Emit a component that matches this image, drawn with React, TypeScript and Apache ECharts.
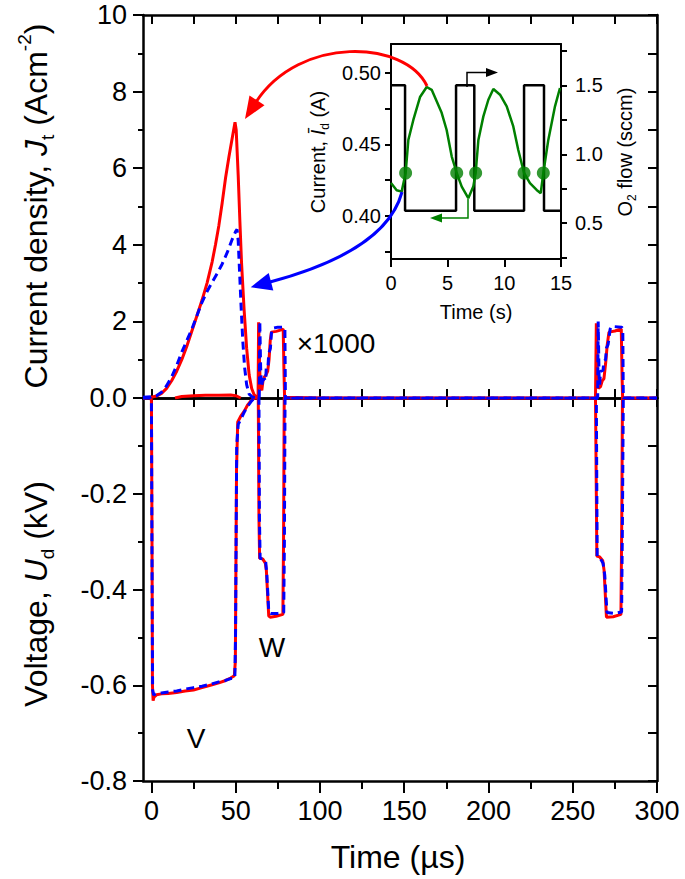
import React, { useEffect, useRef } from "react";
import * as echarts from "echarts";

const FONT = "'Liberation Sans', Arial, Helvetica, sans-serif";

// ---- main chart axes ----
const xTicks25 = [0, 25, 50, 75, 100, 125, 150, 175, 200, 225, 250, 275, 300];
const xLabels = [0, 50, 100, 150, 200, 250, 300];
const xMinor = [25, 75, 125, 175, 225, 275];

// ---- current density J_t (upper panel), [time µs, A cm^-2] ----
const jRed: [number, number][] = [
  [-5, 0], [0, 0.02], [3, 0.05], [6, 0.12], [9, 0.25], [12, 0.45], [15, 0.7], [18, 1.0],
  [21, 1.35], [24, 1.75], [27, 2.15], [30, 2.55], [33, 3.0], [36, 3.55], [38, 4.0],
  [40, 4.5], [42, 5.1], [44, 5.75], [46, 6.3], [48, 6.8], [49.6, 7.2], [50.3, 7.0],
  [51.5, 5.8], [52.5, 4.6], [53.5, 3.5], [55, 2.3], [56.5, 1.3], [58, 0.6], [59.5, 0.25],
  [61, 0.08], [62.5, 0.02], [63.3, 0.05], [63.6, 1.98], [64.1, 1.0], [64.6, 0.3],
  [65.5, 0.2], [66.2, 0.45], [67, 0.55], [68, 0.6], [69, 0.7], [69.8, 1.0], [70.5, 1.5],
  [71.2, 1.72], [74, 1.74], [77, 1.78], [78.2, 1.8], [78.6, 0.8], [79, 0.02], [100, 0],
  [150, 0], [200, 0], [263.5, 0], [264, 1.95], [264.6, 0.8], [265.2, 0.25], [266.5, 0.3],
  [267.5, 0.45], [268.5, 0.5], [269.5, 0.9], [270.5, 1.4], [271.5, 1.72], [275, 1.75],
  [278.8, 1.8], [279.3, 0.5], [279.6, 0], [300, 0],
];
const jBlue: [number, number][] = [
  [-5, 0.02], [0, 0.03], [3, 0.06], [6, 0.15], [9, 0.32], [12, 0.55], [15, 0.85], [18, 1.2],
  [21, 1.5], [24, 1.8], [27, 2.15], [30, 2.5], [33, 2.78], [36, 3.02], [39, 3.25],
  [42, 3.5], [45, 3.8], [48, 4.15], [50, 4.35], [50.8, 4.4], [51.5, 4.1], [52.3, 3.3],
  [53.2, 2.4], [54.2, 1.5], [55.3, 0.8], [56.5, 0.35], [58, 0.1], [60, 0.02], [64, 0],
  [64.3, 2.0], [64.8, 0.8], [65.3, 0.3], [66, 0.45], [67, 0.5], [67.8, 0.45], [68.2, 0.85],
  [69.2, 0.85], [69.6, 1.15], [70.6, 1.3], [71.3, 1.75], [72, 1.82], [75, 1.85],
  [78.5, 1.85], [79.2, 1.8], [79.5, 0], [100, 0], [150, 0], [200, 0], [264.8, 0],
  [265.1, 2.0], [265.6, 0.6], [266, 0.35], [266.5, 0.7], [268, 0.72], [268.4, 0.95],
  [269.5, 1.0], [270, 1.3], [271, 1.4], [272.2, 1.8], [273, 1.87], [279, 1.85],
  [279.7, 1.8], [280, 0], [300, 0],
];
// small ×1000 residual trace lying just above zero during the first pulse
const jRedResidual: [number, number][] = [
  [14, 0], [18, 0.04], [25, 0.06], [32, 0.07], [40, 0.07], [47, 0.08], [50, 0.06], [53, 0],
];

// ---- voltage U_d (lower panel), [time µs, kV] ----
const uRed: [number, number][] = [
  [-5, 0], [-0.5, 0], [0, -0.005], [0.3, -0.25], [0.6, -0.6], [1, -0.632], [1.5, -0.625],
  [3, -0.62], [6, -0.618], [10, -0.617], [15, -0.615], [20, -0.612], [25, -0.61],
  [30, -0.605], [35, -0.6], [40, -0.595], [44, -0.59], [47, -0.585], [49.2, -0.58],
  [49.8, -0.55], [50.5, -0.15], [51.2, -0.05], [53, -0.038], [55, -0.028], [57, -0.015],
  [59, -0.006], [61, 0], [63.4, 0], [63.8, -0.25], [64.2, -0.335], [66, -0.336],
  [67.6, -0.345], [68.2, -0.36], [69.6, -0.455], [70.5, -0.458], [74, -0.456],
  [78, -0.452], [78.4, -0.3], [78.8, 0], [100, 0], [263.5, 0], [264, -0.2], [264.3, -0.33],
  [266, -0.332], [267.8, -0.34], [268.6, -0.36], [270, -0.458], [274, -0.457],
  [278.6, -0.452], [279.1, -0.25], [279.5, 0], [300, 0],
];
const uBlue: [number, number][] = [
  [-5, 0], [-0.5, 0], [0, -0.01], [0.3, -0.3], [0.7, -0.61], [1.3, -0.62], [3, -0.617],
  [6, -0.616], [10, -0.614], [15, -0.612], [20, -0.608], [25, -0.605], [30, -0.602],
  [35, -0.598], [40, -0.593], [44, -0.59], [47, -0.586], [49.5, -0.585], [49.9, -0.5],
  [50.6, -0.1], [51.5, -0.055], [53, -0.045], [55, -0.03], [57, -0.018], [59, -0.008],
  [61, 0], [63.8, 0], [64.1, -0.25], [64.5, -0.335], [66.5, -0.336], [67.8, -0.342],
  [68.5, -0.37], [69.6, -0.445], [70.8, -0.45], [75, -0.45], [78.5, -0.448], [78.9, -0.3],
  [79.3, 0], [100, 0], [264, 0], [264.5, -0.33], [266.3, -0.335], [268, -0.345],
  [269, -0.37], [270.3, -0.448], [275, -0.45], [279, -0.447], [279.5, -0.25], [280, 0],
  [300, 0],
];

// ---- inset: discharge current (left axis) and O2 flow (right axis) vs time (s) ----
const greenT = [0, 0.5, 0.94, 1.29, 1.53, 1.97, 2.56, 3.15, 3.59, 4.03, 4.47, 4.91, 5.36, 5.8,
  6.24, 6.82, 7.26, 7.47, 7.71, 8.15, 8.59, 9.03, 9.62, 10.21, 10.79, 11.23, 11.74, 12.26,
  12.85, 13.21, 13.44, 13.88, 14.47, 14.91];
const greenI = [0.423, 0.418, 0.417, 0.43, 0.453, 0.467, 0.483, 0.49, 0.488, 0.48, 0.472,
  0.46, 0.4415, 0.43, 0.4205, 0.4124, 0.4205, 0.43, 0.4531, 0.4695, 0.4811, 0.4886, 0.4846,
  0.4765, 0.4625, 0.446, 0.43, 0.4229, 0.4182, 0.4159, 0.43, 0.4531, 0.4765, 0.4893];
const dotT = [1.29, 5.8, 7.47, 11.74, 13.44];
const dotI = [0.43, 0.43, 0.43, 0.43, 0.43];
const flowT = [0, 1.24, 1.24, 5.74, 5.74, 7.35, 7.35, 11.74, 11.74, 13.5, 13.5, 15];
const flowV = [1.5, 1.5, 0.59, 0.59, 1.5, 1.5, 0.59, 0.59, 1.5, 1.5, 0.59, 0.59];
const insetLeftTicks = [0.375, 0.4, 0.425, 0.45, 0.475, 0.5];
const insetLeftLabels = [0.4, 0.45, 0.5];
const insetRightTicks = [0.25, 0.5, 0.75, 1.0, 1.25, 1.5, 1.75];
const insetRightLabels = [0.5, 1.0, 1.5];

const BLACK = "#000";
const RED = "#ff0000";
const BLUE = "#0000ff";
const GREEN = "#008000";

const lineAxis = (w: number) => ({ show: true, onZero: false, lineStyle: { color: BLACK, width: w } });

function makeOption() {
  const mainX = (grid: number, position: string, tick: any, label: any, showLine = true) => ({
    type: "value",
    gridIndex: grid,
    position,
    min: -5,
    max: 300,
    axisLine: showLine ? lineAxis(2.5) : { show: false, onZero: false },
    axisTick: { show: true, lineStyle: { color: BLACK, width: 2 }, ...tick },
    axisLabel: label,
    splitLine: { show: false },
  });
  const noLabel = { show: false };

  const richMain = {
    n: { fontSize: 32, fontFamily: FONT, lineHeight: 42, fill: BLACK },
    i: { fontSize: 32, fontFamily: FONT, fontStyle: "italic", lineHeight: 42, fill: BLACK },
    sub: { fontSize: 19, fontFamily: FONT, verticalAlign: "bottom", fill: BLACK },
    sup: { fontSize: 19, fontFamily: FONT, verticalAlign: "top", fill: BLACK },
  };
  const richInset = {
    n: { fontSize: 20, fontFamily: FONT, lineHeight: 26, fill: BLACK },
    i: { fontSize: 20, fontFamily: FONT, fontStyle: "italic", lineHeight: 26, fill: BLACK },
    sub: { fontSize: 12, fontFamily: FONT, verticalAlign: "bottom", fill: BLACK },
  };
  const text = (x: number, y: number, t: string, size: number, rich?: any, rotation = 0) => ({
    type: "text",
    x,
    y,
    rotation,
    z: 100,
    style: {
      text: t,
      rich,
      fontFamily: FONT,
      fontSize: size,
      fill: BLACK,
      align: "center",
      verticalAlign: "middle",
    },
  });

  return {
    animation: false,
    backgroundColor: "#fff",
    grid: [
      { left: 143, top: 15, width: 514, height: 383, outerBoundsMode: "none" },
      { left: 143, top: 398, width: 514, height: 383, outerBoundsMode: "none" },
      { left: 391, top: 44, width: 170, height: 215, outerBoundsMode: "none" },
    ],
    xAxis: [
      mainX(0, "bottom", { inside: true, length: 9, customValues: xTicks25 }, noLabel),
      mainX(0, "top", { inside: true, length: 9, customValues: xTicks25 }, noLabel),
      mainX(1, "top", { inside: true, length: 9, customValues: xTicks25 }, noLabel),
      mainX(1, "bottom", { inside: false, length: 12, customValues: xLabels }, {
        show: true, customValues: xLabels, fontSize: 27, fontFamily: FONT, color: BLACK, margin: 16,
      }),
      mainX(1, "bottom", { inside: false, length: 8, customValues: xMinor }, noLabel, false),
      {
        type: "value", gridIndex: 2, position: "bottom", min: 0, max: 15, interval: 5,
        axisLine: lineAxis(2),
        axisTick: { show: true, inside: false, length: 8, lineStyle: { color: BLACK, width: 2 } },
        axisLabel: { fontSize: 20, fontFamily: FONT, color: BLACK, margin: 14 },
        splitLine: { show: false },
      },
      {
        type: "value", gridIndex: 2, position: "top", min: 0, max: 15,
        axisLine: lineAxis(2), axisTick: { show: false }, axisLabel: noLabel,
        splitLine: { show: false },
      },
    ],
    yAxis: [
      {
        type: "value", gridIndex: 0, position: "left", min: 0, max: 10, interval: 2,
        axisLine: lineAxis(2.5),
        axisTick: { show: true, length: 10, lineStyle: { color: BLACK, width: 2 } },
        minorTick: { show: true, splitNumber: 2, length: 5, lineStyle: { color: BLACK, width: 2 } },
        axisLabel: {
          fontSize: 27, fontFamily: FONT, color: BLACK, margin: 16,
          formatter: (v: number) => (v === 0 ? "" : String(v)),
        },
        splitLine: { show: false },
      },
      {
        type: "value", gridIndex: 0, position: "right", min: 0, max: 10, interval: 1,
        axisLine: lineAxis(2.5),
        axisTick: { show: true, inside: true, length: 9, lineStyle: { color: BLACK, width: 2 } },
        axisLabel: noLabel, splitLine: { show: false },
      },
      {
        type: "value", gridIndex: 1, position: "left", min: -0.8, max: 0, interval: 0.2,
        axisLine: lineAxis(2.5),
        axisTick: { show: true, length: 10, lineStyle: { color: BLACK, width: 2 } },
        minorTick: { show: true, splitNumber: 2, length: 5, lineStyle: { color: BLACK, width: 2 } },
        axisLabel: {
          fontSize: 27, fontFamily: FONT, color: BLACK, margin: 16,
          formatter: (v: number) => (Math.abs(v) < 1e-9 ? "0.0" : v.toFixed(1)),
        },
        splitLine: { show: false },
      },
      {
        type: "value", gridIndex: 1, position: "right", min: -0.8, max: 0, interval: 0.1,
        axisLine: lineAxis(2.5),
        axisTick: { show: true, inside: true, length: 9, lineStyle: { color: BLACK, width: 2 } },
        axisLabel: noLabel, splitLine: { show: false },
      },
      {
        type: "value", gridIndex: 2, position: "left", min: 0.37, max: 0.52,
        axisLine: lineAxis(2),
        axisTick: { show: true, length: 6, customValues: insetLeftTicks, lineStyle: { color: BLACK, width: 2 } },
        axisLabel: {
          customValues: insetLeftLabels, fontSize: 20, fontFamily: FONT, color: BLACK, margin: 10,
          formatter: (v: number) => v.toFixed(2),
        },
        splitLine: { show: false },
      },
      {
        type: "value", gridIndex: 2, position: "right", min: 0.24, max: 1.8,
        axisLine: lineAxis(2),
        axisTick: { show: true, length: 6, customValues: insetRightTicks, lineStyle: { color: BLACK, width: 2 } },
        axisLabel: {
          customValues: insetRightLabels, fontSize: 20, fontFamily: FONT, color: BLACK, margin: 14,
          formatter: (v: number) => v.toFixed(1),
        },
        splitLine: { show: false },
      },
    ],
    series: [
      {
        type: "line", xAxisIndex: 0, yAxisIndex: 0, data: jRedResidual, showSymbol: false,
        lineStyle: { color: RED, width: 3 }, z: 3,
      },
      {
        type: "line", xAxisIndex: 0, yAxisIndex: 0, data: jRed, showSymbol: false,
        lineStyle: { color: RED, width: 3 }, z: 3,
      },
      {
        type: "line", xAxisIndex: 0, yAxisIndex: 0, data: jBlue, showSymbol: false,
        lineStyle: { color: BLUE, width: 3, type: [8, 5] }, z: 4,
      },
      {
        type: "line", xAxisIndex: 2, yAxisIndex: 2, data: uRed, showSymbol: false,
        lineStyle: { color: RED, width: 3 }, z: 3,
      },
      {
        type: "line", xAxisIndex: 2, yAxisIndex: 2, data: uBlue, showSymbol: false,
        lineStyle: { color: BLUE, width: 3, type: [8, 5] }, z: 4,
      },
      {
        type: "line", xAxisIndex: 5, yAxisIndex: 5,
        data: flowT.map((t, k) => [t, flowV[k]]), showSymbol: false,
        lineStyle: { color: BLACK, width: 2.5 }, z: 3,
      },
      {
        type: "line", xAxisIndex: 5, yAxisIndex: 4,
        data: greenT.map((t, k) => [t, greenI[k]]), showSymbol: false,
        lineStyle: { color: GREEN, width: 2.5 }, z: 4,
      },
      {
        type: "scatter", xAxisIndex: 5, yAxisIndex: 4,
        data: dotT.map((t, k) => [t, dotI[k]]), symbolSize: 13,
        itemStyle: { color: GREEN }, z: 5,
      },
    ],
    graphic: [
      text(36, 206, "{n|Current density, }{i|J}{sub|t}{n| (Acm}{sup|-2}{n|)}", 32, richMain, Math.PI / 2),
      text(36, 594, "{n|Voltage, }{i|U}{sub|d}{n| (kV)}", 32, richMain, Math.PI / 2),
      text(398, 857, "Time (µs)", 32),
      text(318, 152, "{n|Current, }{i|Ī}{sub|d}{n| (A)}", 20, richInset, Math.PI / 2),
      text(625, 152, "{n|O}{sub|2}{n| flow (sccm)}", 20, richInset, Math.PI / 2),
      text(476, 312, "Time (s)", 20),
      text(336, 343, "×1000", 28),
      text(196, 738, "V", 28),
      text(272, 647, "W", 28),
      // red curved arrow: inset -> main current peak
      {
        type: "bezierCurve", z: 90,
        shape: { x1: 427, y1: 86, cpx1: 405, cpy1: 40, cpx2: 300, cpy2: 35, x2: 256, y2: 102 },
        style: { stroke: RED, lineWidth: 3, fill: "none" },
      },
      {
        type: "polygon", z: 90,
        shape: { points: [[245, 119], [264.5, 105.2], [249.5, 95.4]] },
        style: { fill: RED },
      },
      // blue curved arrow
      {
        type: "bezierCurve", z: 90,
        shape: { x1: 402, y1: 192, cpx1: 388, cpy1: 245, cpx2: 315, cpy2: 270, x2: 270, y2: 282 },
        style: { stroke: BLUE, lineWidth: 3, fill: "none" },
      },
      {
        type: "polygon", z: 90,
        shape: { points: [[250.7, 287.2], [273.3, 290.4], [268.7, 273]] },
        style: { fill: BLUE },
      },
      // inset arrows
      {
        type: "polyline", z: 90,
        shape: { points: [[468, 199], [468, 218], [440, 218]] },
        style: { stroke: GREEN, lineWidth: 1.5, fill: "none" },
      },
      {
        type: "polygon", z: 90,
        shape: { points: [[430, 218], [442, 213.5], [442, 222.5]] },
        style: { fill: GREEN },
      },
      {
        type: "polyline", z: 90,
        shape: { points: [[467, 87], [467, 72.5], [488, 72.5]] },
        style: { stroke: BLACK, lineWidth: 1.5, fill: "none" },
      },
      {
        type: "polygon", z: 90,
        shape: { points: [[498, 72.5], [486, 68], [486, 77]] },
        style: { fill: BLACK },
      },
    ],
  };
}

export default function App() {
  const ref = useRef<HTMLDivElement>(null);
  useEffect(() => {
    document.body.style.margin = "0";
    const chart = echarts.init(ref.current!, null, { renderer: "svg" });
    chart.setOption(makeOption() as any);
    return () => chart.dispose();
  }, []);
  return <div ref={ref} style={{ width: 685, height: 879 }} />;
}
